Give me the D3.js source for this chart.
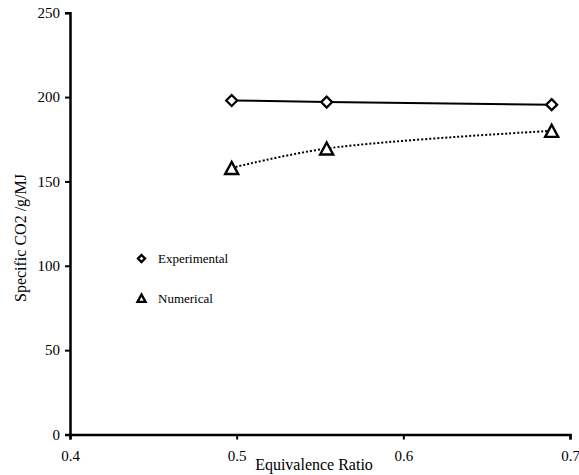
<!DOCTYPE html>
<html>
<head>
<meta charset="utf-8">
<script src="https://cdn.jsdelivr.net/npm/d3@7"></script>
<style>
  html, body { margin: 0; padding: 0; background: #fff; }
  svg { display: block; font-family: "Liberation Serif", "Times New Roman", serif; }
</style>
</head>
<body>
<svg id="chart" width="579" height="475"></svg>
<script>
// ---- data ----
const phi = [0.497, 0.554, 0.689];
const experimental = [198, 197, 195.5];
const numerical = [158, 169.5, 180];
const xTicks = [0.4, 0.5, 0.6, 0.7];
const yTicks = [0, 50, 100, 150, 200, 250];
const seriesNames = ["Experimental", "Numerical"];
const xTitle = "Equivalence Ratio";
const yTitle = "Specific CO2 /g/MJ";

// ---- layout ----
const svg = d3.select("#chart");
const x = d3.scaleLinear().domain([0.4, 0.7]).range([70, 570]);
const y = d3.scaleLinear().domain([0, 250]).range([434.5, 12.7]);

// axes
const xAxis = svg.append("g").attr("transform", `translate(0,${y(0)})`)
  .call(d3.axisBottom(x).tickValues(xTicks).tickFormat(d3.format(".1f")).tickSize(5).tickPadding(11));
const yAxis = svg.append("g").attr("transform", `translate(${x(0.4)},0)`)
  .call(d3.axisLeft(y).tickValues(yTicks).tickSize(5).tickPadding(5));
[xAxis, yAxis].forEach(g => {
  g.select(".domain").attr("stroke", "#000").attr("stroke-width", 2.5);
  g.selectAll(".tick line").attr("stroke", "#000").attr("stroke-width", 2);
  g.selectAll(".tick text").attr("fill", "#000")
    .style("font-family", '"Liberation Serif", serif').style("font-size", "15px");
});

// axis titles
svg.append("text").attr("x", 314).attr("y", 470).attr("text-anchor", "middle")
  .style("font-size", "16px").text(xTitle);
svg.append("text").attr("transform", "translate(26,238) rotate(-90)").attr("text-anchor", "middle")
  .style("font-size", "16px").text(yTitle);

// series
const expData = phi.map((p, i) => [p, experimental[i]]);
const numData = phi.map((p, i) => [p, numerical[i]]);

svg.append("path").datum(expData)
  .attr("fill", "none").attr("stroke", "#000").attr("stroke-width", 2)
  .attr("d", d3.line().x(d => x(d[0])).y(d => y(d[1])));

svg.append("path").datum(numData)
  .attr("fill", "none").attr("stroke", "#000").attr("stroke-width", 2)
  .attr("stroke-dasharray", "2,2")
  .attr("d", d3.line().curve(d3.curveCatmullRom).x(d => x(d[0])).y(d => y(d[1])));

const diamond = (s) => `M0,${-s}L${s},0L0,${s}L${-s},0Z`;
const triangle = (s) => `M0,${-s}L${s*1.0},${s*0.85}L${-s*1.0},${s*0.85}Z`;

svg.selectAll(".dexp").data(expData).join("path")
  .attr("transform", d => `translate(${x(d[0])},${y(d[1])})`)
  .attr("d", diamond(5.5)).attr("fill", "#fff").attr("stroke", "#000").attr("stroke-width", 2.2);

svg.selectAll(".dnum").data(numData).join("path")
  .attr("transform", d => `translate(${x(d[0])},${y(d[1]) + 0.5})`)
  .attr("d", triangle(6.5)).attr("fill", "#fff").attr("stroke", "#000").attr("stroke-width", 2.4);

// legend
const legend = svg.append("g");
legend.append("path").attr("transform", "translate(141.5,258.5)")
  .attr("d", diamond(3.5)).attr("fill", "#fff").attr("stroke", "#000").attr("stroke-width", 2.4);
legend.append("text").attr("x", 158).attr("y", 263).style("font-size", "13px").text(seriesNames[0]);
legend.append("path").attr("transform", "translate(141.5,298.5)")
  .attr("d", triangle(4)).attr("fill", "#fff").attr("stroke", "#000").attr("stroke-width", 2.4);
legend.append("text").attr("x", 158).attr("y", 303).style("font-size", "13px").text(seriesNames[1]);
</script>
</body>
</html>
